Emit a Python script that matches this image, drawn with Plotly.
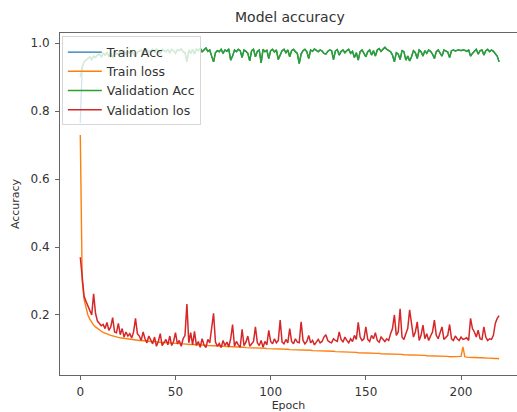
import plotly.graph_objects as go

# Training history, one value per epoch (0..220)
epochs = list(range(221))

train_acc = [
    0.765, 0.930, 0.945, 0.950, 0.955, 0.960, 0.952, 0.962, 0.958, 0.965,
    0.968, 0.960, 0.970, 0.965, 0.972, 0.962, 0.970, 0.958, 0.974, 0.970,
    0.966, 0.975, 0.970, 0.978, 0.968, 0.975, 0.972, 0.978, 0.970, 0.960,
    0.974, 0.976, 0.980, 0.970, 0.977, 0.981, 0.975, 0.978, 0.982, 0.974,
    0.983, 0.978, 0.968, 0.982, 0.979, 0.975, 0.981, 0.972, 0.982, 0.978,
    0.970, 0.981, 0.978, 0.983, 0.975, 0.972, 0.945, 0.980, 0.970, 0.982,
    0.968, 0.983, 0.978, 0.985, 0.975, 0.982, 0.986, 0.976, 0.980, 0.962,
    0.945, 0.972, 0.978, 0.975, 0.982, 0.970, 0.980, 0.976, 0.983, 0.950,
    0.962, 0.980, 0.975, 0.982, 0.978, 0.958, 0.980, 0.976, 0.970, 0.948,
    0.978, 0.982, 0.960, 0.976, 0.980, 0.942, 0.982, 0.975, 0.979, 0.955,
    0.978, 0.982, 0.974, 0.980, 0.952, 0.965, 0.978, 0.982, 0.972, 0.980,
    0.960, 0.978, 0.982, 0.975, 0.970, 0.940, 0.968, 0.978, 0.982, 0.975,
    0.955, 0.980, 0.976, 0.983, 0.978, 0.975, 0.980, 0.977, 0.970, 0.968,
    0.976, 0.980, 0.978, 0.952, 0.977, 0.981, 0.965, 0.976, 0.980, 0.972,
    0.978, 0.982, 0.970, 0.976, 0.958, 0.972, 0.950, 0.975, 0.980, 0.968,
    0.960, 0.975, 0.980, 0.965, 0.978, 0.962, 0.980, 0.984, 0.976, 0.982,
    0.988, 0.982, 0.978, 0.975, 0.965, 0.945, 0.972, 0.968, 0.952, 0.978,
    0.975, 0.950, 0.962, 0.948, 0.960, 0.978, 0.972, 0.955, 0.980, 0.975,
    0.962, 0.978, 0.970, 0.980, 0.976, 0.968, 0.955, 0.975, 0.980, 0.970,
    0.962, 0.980, 0.976, 0.974, 0.958, 0.978, 0.980, 0.977, 0.979, 0.980,
    0.978, 0.980, 0.979, 0.976, 0.980, 0.962, 0.970, 0.975, 0.982, 0.968,
    0.978, 0.980, 0.965, 0.978, 0.982, 0.975, 0.980, 0.976, 0.970, 0.962,
    0.945,
]

train_loss = [
    0.730, 0.300, 0.245, 0.220, 0.200, 0.188, 0.178, 0.170, 0.165, 0.160,
    0.156, 0.152, 0.149, 0.146, 0.144, 0.142, 0.140, 0.138, 0.137, 0.135,
    0.134, 0.133, 0.132, 0.131, 0.130, 0.129, 0.129, 0.128, 0.127, 0.127,
    0.126, 0.125, 0.125, 0.124, 0.124, 0.123, 0.123, 0.122, 0.122, 0.121,
    0.121, 0.120, 0.120, 0.119, 0.119, 0.118, 0.118, 0.117, 0.117, 0.117,
    0.116, 0.116, 0.115, 0.115, 0.115, 0.114, 0.114, 0.114, 0.113, 0.113,
    0.113, 0.112, 0.112, 0.112, 0.111, 0.111, 0.111, 0.110, 0.110, 0.110,
    0.109, 0.109, 0.109, 0.108, 0.108, 0.108, 0.108, 0.107, 0.107, 0.107,
    0.106, 0.106, 0.106, 0.106, 0.105, 0.105, 0.105, 0.104, 0.104, 0.104,
    0.104, 0.103, 0.103, 0.103, 0.103, 0.102, 0.102, 0.102, 0.101, 0.101,
    0.101, 0.101, 0.100, 0.100, 0.100, 0.100, 0.099, 0.099, 0.099, 0.099,
    0.098, 0.098, 0.098, 0.098, 0.097, 0.097, 0.097, 0.097, 0.096, 0.096,
    0.096, 0.096, 0.095, 0.095, 0.095, 0.095, 0.094, 0.094, 0.094, 0.094,
    0.093, 0.093, 0.093, 0.093, 0.092, 0.092, 0.092, 0.092, 0.091, 0.091,
    0.091, 0.091, 0.090, 0.090, 0.090, 0.090, 0.089, 0.089, 0.089, 0.089,
    0.088, 0.088, 0.088, 0.088, 0.087, 0.087, 0.087, 0.087, 0.086, 0.086,
    0.086, 0.086, 0.085, 0.085, 0.085, 0.085, 0.084, 0.084, 0.084, 0.084,
    0.083, 0.083, 0.083, 0.083, 0.082, 0.082, 0.082, 0.082, 0.081, 0.081,
    0.081, 0.081, 0.080, 0.080, 0.080, 0.080, 0.079, 0.079, 0.079, 0.079,
    0.078, 0.078, 0.078, 0.078, 0.077, 0.077, 0.077, 0.077, 0.076, 0.076,
    0.078, 0.106, 0.077, 0.076, 0.075, 0.075, 0.075, 0.075, 0.074, 0.074,
    0.074, 0.074, 0.073, 0.073, 0.073, 0.073, 0.072, 0.072, 0.072, 0.072,
    0.071,
]

val_acc = [
    0.900, 0.930, 0.945, 0.950, 0.955, 0.960, 0.952, 0.962, 0.958, 0.965,
    0.968, 0.960, 0.970, 0.965, 0.972, 0.962, 0.970, 0.958, 0.974, 0.970,
    0.966, 0.975, 0.970, 0.978, 0.968, 0.975, 0.972, 0.978, 0.970, 0.960,
    0.974, 0.976, 0.980, 0.970, 0.977, 0.981, 0.975, 0.978, 0.982, 0.974,
    0.983, 0.978, 0.968, 0.982, 0.979, 0.975, 0.981, 0.972, 0.982, 0.978,
    0.970, 0.981, 0.978, 0.983, 0.975, 0.972, 0.945, 0.980, 0.970, 0.982,
    0.968, 0.983, 0.978, 0.985, 0.975, 0.982, 0.986, 0.976, 0.980, 0.962,
    0.945, 0.972, 0.978, 0.975, 0.982, 0.970, 0.980, 0.976, 0.983, 0.950,
    0.962, 0.980, 0.975, 0.982, 0.978, 0.958, 0.980, 0.976, 0.970, 0.948,
    0.978, 0.982, 0.960, 0.976, 0.980, 0.942, 0.982, 0.975, 0.979, 0.955,
    0.978, 0.982, 0.974, 0.980, 0.952, 0.965, 0.978, 0.982, 0.972, 0.980,
    0.960, 0.978, 0.982, 0.975, 0.970, 0.940, 0.968, 0.978, 0.982, 0.975,
    0.955, 0.980, 0.976, 0.983, 0.978, 0.975, 0.980, 0.977, 0.970, 0.968,
    0.976, 0.980, 0.978, 0.952, 0.977, 0.981, 0.965, 0.976, 0.980, 0.972,
    0.978, 0.982, 0.970, 0.976, 0.958, 0.972, 0.950, 0.975, 0.980, 0.968,
    0.960, 0.975, 0.980, 0.965, 0.978, 0.962, 0.980, 0.984, 0.976, 0.982,
    0.988, 0.982, 0.978, 0.975, 0.965, 0.945, 0.972, 0.968, 0.952, 0.978,
    0.975, 0.950, 0.962, 0.948, 0.960, 0.978, 0.972, 0.955, 0.980, 0.975,
    0.962, 0.978, 0.970, 0.980, 0.976, 0.968, 0.955, 0.975, 0.980, 0.970,
    0.962, 0.980, 0.976, 0.974, 0.958, 0.978, 0.980, 0.977, 0.979, 0.980,
    0.978, 0.980, 0.979, 0.976, 0.980, 0.962, 0.970, 0.975, 0.982, 0.968,
    0.978, 0.980, 0.965, 0.978, 0.982, 0.975, 0.980, 0.976, 0.970, 0.962,
    0.945,
]

val_loss = [
    0.370, 0.300, 0.255, 0.240, 0.225, 0.210, 0.200, 0.262, 0.205, 0.182,
    0.175, 0.168, 0.172, 0.160, 0.178, 0.155, 0.165, 0.192, 0.150, 0.148,
    0.175, 0.142, 0.160, 0.135, 0.150, 0.138, 0.145, 0.132, 0.150, 0.190,
    0.145, 0.138, 0.125, 0.150, 0.130, 0.118, 0.138, 0.125, 0.115, 0.135,
    0.108, 0.122, 0.145, 0.110, 0.120, 0.128, 0.112, 0.138, 0.110, 0.122,
    0.148, 0.115, 0.125, 0.108, 0.130, 0.140, 0.232, 0.118, 0.148, 0.112,
    0.152, 0.110, 0.122, 0.105, 0.130, 0.112, 0.104, 0.128, 0.118, 0.168,
    0.205, 0.120, 0.108, 0.116, 0.104, 0.125, 0.110, 0.120, 0.106, 0.130,
    0.172, 0.108, 0.122, 0.112, 0.105, 0.158, 0.110, 0.120, 0.138, 0.108,
    0.115, 0.122, 0.165, 0.118, 0.110, 0.125, 0.105, 0.122, 0.112, 0.155,
    0.122, 0.115, 0.130, 0.118, 0.125, 0.185, 0.120, 0.115, 0.128, 0.118,
    0.160, 0.122, 0.115, 0.130, 0.120, 0.118, 0.180, 0.125, 0.115, 0.122,
    0.140, 0.118, 0.125, 0.112, 0.120, 0.128, 0.118, 0.122, 0.135, 0.142,
    0.125, 0.120, 0.118, 0.130, 0.125, 0.122, 0.150, 0.128, 0.120, 0.135,
    0.125, 0.118, 0.130, 0.122, 0.140, 0.128, 0.178, 0.135, 0.125, 0.130,
    0.165, 0.128, 0.122, 0.140, 0.130, 0.148, 0.125, 0.120, 0.135, 0.128,
    0.122, 0.130, 0.125, 0.145, 0.160, 0.200, 0.140, 0.150, 0.218, 0.135,
    0.128, 0.145, 0.160, 0.215, 0.175, 0.135, 0.150, 0.180, 0.125, 0.140,
    0.170, 0.130, 0.145, 0.125, 0.138, 0.150, 0.185, 0.140, 0.130, 0.148,
    0.165, 0.128, 0.135, 0.140, 0.172, 0.130, 0.125, 0.138, 0.130, 0.125,
    0.135, 0.128, 0.130, 0.133, 0.125, 0.190, 0.160, 0.150, 0.135, 0.155,
    0.130, 0.128, 0.165, 0.135, 0.125, 0.130, 0.128, 0.140, 0.175, 0.190,
    0.198,
]

y_ticks = [0.2, 0.4, 0.6, 0.8, 1.0]
y_tick_labels = ["0.2", "0.4", "0.6", "0.8", "1.0"]
x_ticks = [0, 50, 100, 150, 200]
x_tick_labels = ["0", "50", "100", "150", "200"]

series = [
    ("Train Acc", train_acc, "#1f77b4", 1.3),
    ("Train loss", train_loss, "#ff7f0e", 1.4),
    ("Validation Acc", val_acc, "#2ca02c", 1.5),
    ("Validation los", val_loss, "#d62728", 1.5),
]

FONT = "DejaVu Sans, Verdana, sans-serif"
INK = "#333333"

fig = go.Figure()
for name, values, color, width in series:
    fig.add_trace(go.Scatter(
        x=epochs, y=values, mode="lines", name=name,
        line=dict(color=color, width=width),
    ))

fig.update_layout(
    width=517, height=412,
    margin=dict(l=60, r=0, t=33, b=37),
    paper_bgcolor="white", plot_bgcolor="white",
    font=dict(family=FONT, size=12, color=INK),
    title=dict(text="Model accuracy", font=dict(size=14, color=INK),
               x=0.503, xref="paper", xanchor="center",
               y=0.958, yref="container", yanchor="middle"),
    showlegend=True,
    legend=dict(x=0.004, y=0.99, xanchor="left", yanchor="top",
                bgcolor="rgba(255,255,255,0.8)", bordercolor="#d6d6d6",
                borderwidth=1, font=dict(size=12.5, color=INK),
                tracegroupgap=0, itemwidth=34),
)

fig.update_xaxes(
    range=[-10.66, 229.4], showgrid=False, zeroline=False,
    showline=True, linecolor="#666666", linewidth=1, mirror=True,
    ticks="outside", ticklen=4, tickcolor="#666666",
    tickvals=x_ticks, ticktext=x_tick_labels, ticklabelstandoff=2,
    tickfont=dict(size=12, color=INK),
    title=dict(text="Epoch", font=dict(size=11, color=INK), standoff=6),
)
fig.update_yaxes(
    range=[0.0233, 1.030], showgrid=False, zeroline=False,
    showline=True, linecolor="#666666", linewidth=1, mirror=False,
    ticks="outside", ticklen=4, tickcolor="#666666",
    tickvals=y_ticks, ticktext=y_tick_labels, ticklabelstandoff=3,
    tickfont=dict(size=12, color=INK),
    title=dict(text="Accuracy", font=dict(size=11, color=INK), standoff=8),
)

fig.write_html("out.html")
